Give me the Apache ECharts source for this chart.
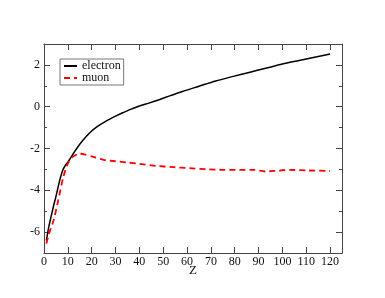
<!DOCTYPE html>
<html><head><meta charset="utf-8">
<script src="https://cdn.jsdelivr.net/npm/echarts@6/dist/echarts.min.js"></script>
<style>html,body{margin:0;padding:0;background:#fff}#c{width:385px;height:298px}</style>
</head><body><div id="c"></div>
<script>
var electronZ = [1, 2, 3, 4, 5, 6, 7, 8, 9, 10, 12, 14, 16, 19, 22, 26, 30, 33, 36, 40, 44, 48, 53, 58, 65, 72, 79, 86, 93, 100, 107, 114, 120];
var electronV = [-6.4, -5.75, -5.25, -4.75, -4.3, -3.8, -3.35, -3.0, -2.8, -2.65, -2.3, -1.95, -1.65, -1.27, -0.98, -0.69, -0.45, -0.29, -0.14, 0.03, 0.17, 0.32, 0.53, 0.73, 0.98, 1.23, 1.44, 1.64, 1.84, 2.04, 2.21, 2.38, 2.52];
var muonZ = [1, 2, 4, 6, 8, 10, 12, 15, 17, 20, 25, 30, 35, 40, 47, 54, 61, 68, 75, 82, 88, 93, 97, 103, 110, 120];
var muonV = [-6.55, -6.1, -5.45, -4.47, -3.4, -2.72, -2.4, -2.25, -2.28, -2.38, -2.54, -2.61, -2.67, -2.73, -2.83, -2.89, -2.94, -2.99, -3.02, -3.02, -3.02, -3.1, -3.07, -3.02, -3.05, -3.07];
var xTicks = [0, 10, 20, 30, 40, 50, 60, 70, 80, 90, 100, 110, 120];
var yTickLabels = [-6, -4, -2, 0, 2];

function zip(a, b) { return a.map(function (v, i) { return [v, b[i]]; }); }
var font = '"Liberation Serif", "DejaVu Serif", serif';
var axisCol = '#444';
function line(show) { return { show: show, onZero: false, lineStyle: { color: axisCol, width: 1 } }; }
function tick(len, vals) {
  var t = { show: true, inside: true, length: len, lineStyle: { color: axisCol } };
  if (vals) t.customValues = vals;
  return t;
}
function yAx(pos, major, labels) {
  return {
    type: 'value', min: -7, max: 3, interval: 1, position: pos,
    axisLine: line(!major), axisTick: major ? tick(6, yTickLabels) : tick(3),
    axisLabel: labels ? { fontFamily: font, fontSize: 12, color: '#111', margin: 4,
      formatter: function (v) { return yTickLabels.indexOf(v) >= 0 ? String(v) : ''; } } : { show: false },
    splitLine: { show: false }
  };
}
var chart = echarts.init(document.getElementById('c'));
chart.setOption({
  animation: false,
  backgroundColor: '#fff',
  grid: { left: 44, right: 43, top: 44, bottom: 45 },
  legend: {
    left: 60, top: 59, orient: 'vertical', itemGap: 0, itemWidth: 13, itemHeight: 10,
    padding: [1, 3, 1, 3], borderColor: '#777', borderWidth: 1,
    itemStyle: { opacity: 0 },
    textStyle: { fontFamily: font, fontSize: 12, color: '#111' },
    data: ['electron', 'muon']
  },
  xAxis: [{
    type: 'value', min: 0, max: 125, interval: 10, position: 'bottom',
    name: 'Z', nameLocation: 'middle', nameGap: 11, nameMoveOverlap: false,
    nameTextStyle: { fontFamily: font, fontSize: 13, color: '#111' },
    axisLine: line(true), axisTick: tick(6),
    axisLabel: { fontFamily: font, fontSize: 12, color: '#111', margin: 3, showMaxLabel: false,
      formatter: function (v) { return xTicks.indexOf(v) >= 0 ? String(v) : ''; } },
    splitLine: { show: false }
  }, {
    type: 'value', min: 0, max: 125, interval: 10, position: 'top',
    axisLine: line(true), axisTick: tick(6),
    axisLabel: { show: false }, splitLine: { show: false }
  }],
  yAxis: [yAx('left', false, true), yAx('right', false, false), yAx('left', true, false), yAx('right', true, false)],
  series: [{
    name: 'electron', type: 'line', data: zip(electronZ, electronV), symbol: 'none', smooth: 0.3,
    lineStyle: { color: '#000', width: 1.5 }, itemStyle: { color: '#000' }
  }, {
    name: 'muon', type: 'line', data: zip(muonZ, muonV), symbol: 'none', smooth: 0.2,
    lineStyle: { color: '#ff0000', width: 1.8, type: [6, 4] }, itemStyle: { color: '#ff0000' }
  }]
});
</script></body></html>
